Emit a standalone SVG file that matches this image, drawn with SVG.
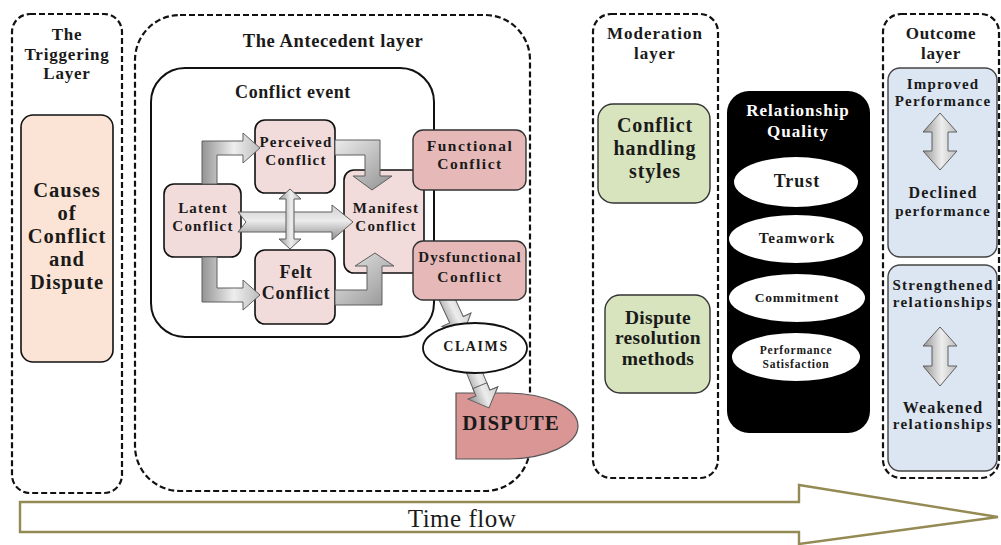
<svg xmlns="http://www.w3.org/2000/svg" width="1001" height="545" viewBox="0 0 1001 545">
  <style>
    text { font-family: "Liberation Serif", "DejaVu Serif", serif; font-weight: 700; fill: #1a1a1a; text-anchor: middle; dominant-baseline: central; }
    .layer { fill: none; stroke: #111; stroke-width: 2.2; stroke-dasharray: 6 3; }
    .pink { fill: #f2dcdb; stroke: #111; stroke-width: 1.6; }
    .rose { fill: #e6b9b8; stroke: #333; stroke-width: 1.4; }
    .green { fill: #d7e4bd; stroke: #333; stroke-width: 1.4; }
    .blue { fill: #dce6f2; stroke: #444; stroke-width: 1.4; }
    .garrow { stroke: #5e5e5e; stroke-width: 1; }
    .node { font-size: 15px; letter-spacing: 1.2px; }
    .cause { font-size: 20.5px; letter-spacing: 1px; }
  </style>
  <defs>
    <linearGradient id="gV" x1="0" y1="0" x2="0" y2="1">
      <stop offset="0" stop-color="#cfcfcf"/>
      <stop offset="0.45" stop-color="#ececec"/>
      <stop offset="1" stop-color="#8c8c8c"/>
    </linearGradient>
    <linearGradient id="gH" x1="0" y1="0" x2="1" y2="0">
      <stop offset="0" stop-color="#949494"/>
      <stop offset="0.55" stop-color="#eeeeee"/>
      <stop offset="1" stop-color="#bdbdbd"/>
    </linearGradient>
    <linearGradient id="gD" x1="0" y1="0" x2="1" y2="1">
      <stop offset="0" stop-color="#ebebeb"/>
      <stop offset="1" stop-color="#929292"/>
    </linearGradient>
  </defs>

  <!-- time axis -->
  <g id="time-flow">
    <polygon points="20,502 799,502 799,485 998,517 799,544 799,532 20,532" fill="#fff" stroke="#948a54" stroke-width="2.4"/>
    <text x="462" y="518" style="font-weight:400; font-size:25px; letter-spacing:0.5px">Time flow</text>
  </g>

  <!-- triggering layer -->
  <g id="triggering-layer">
    <rect class="layer" x="12" y="14" width="110" height="479" rx="18"/>
    <text x="67" y="34" font-size="17" letter-spacing="0.8">The</text>
    <text x="67" y="54" font-size="17" letter-spacing="0.8">Triggering</text>
    <text x="67" y="73" font-size="17" letter-spacing="0.8">Layer</text>
  </g>
  <g id="causes">
    <rect x="21" y="115" width="92" height="247" rx="12" fill="#fbe4d5" stroke="#111" stroke-width="1.6"/>
    <text class="cause" x="67" y="190">Causes</text>
    <text class="cause" x="67" y="213">of</text>
    <text class="cause" x="67" y="236">Conflict</text>
    <text class="cause" x="67" y="259">and</text>
    <text class="cause" x="67" y="282">Dispute</text>
  </g>

  <!-- antecedent layer -->
  <g id="antecedent-layer">
    <rect class="layer" x="135" y="15" width="395" height="476" rx="45"/>
    <text x="333" y="41" font-size="18.5" letter-spacing="0.6">The Antecedent layer</text>
  </g>
  <g id="conflict-event">
    <rect x="151" y="68" width="283" height="269" rx="34" fill="#fff" stroke="#111" stroke-width="2"/>
    <text x="293" y="92" font-size="18" letter-spacing="0.6">Conflict event</text>
  </g>

  <g id="manifest-conflict">
    <rect class="pink" x="344" y="170" width="80" height="103" rx="10"/>
    <text class="node" x="386" y="208">Manifest</text>
    <text class="node" x="386" y="226">Conflict</text>
  </g>
  <g id="perceived-conflict">
    <rect class="pink" x="255" y="120" width="80" height="73" rx="10"/>
    <text class="node" x="296" y="142" letter-spacing="0.9">Perceived</text>
    <text class="node" x="296" y="160">Conflict</text>
  </g>
  <g id="latent-conflict">
    <rect class="pink" x="164" y="184" width="77" height="73" rx="10"/>
    <text class="node" x="203" y="208">Latent</text>
    <text class="node" x="203" y="226">Conflict</text>
  </g>
  <g id="felt-conflict">
    <rect class="pink" x="255" y="250" width="80" height="74" rx="10"/>
    <text x="296" y="272" font-size="18" letter-spacing="0.8">Felt</text>
    <text x="296" y="293" font-size="18" letter-spacing="0.8">Conflict</text>
  </g>

  <!-- block arrows -->
  <g id="connectors">
    <polygon class="garrow" fill="url(#gH)" points="202,184 202,141 243,141 243,133 260,148 243,163 243,155 217,155 217,184"/>
    <polygon class="garrow" fill="url(#gH)" points="202,257 202,302 243,302 243,310 260,295 243,280 243,288 217,288 217,257"/>
    <polygon class="garrow" fill="url(#gV)" points="238,212 332,212 332,205 353,222 332,240 332,232 238,232 246,222"/>
    <polygon class="garrow" fill="url(#gD)" points="335,140 380,140 380,176 392,176 372,190 353,176 365,176 365,155 335,155"/>
    <polygon class="garrow" fill="url(#gD)" points="335,305 382,305 382,266 394,266 375,253 355,266 367,266 367,290 335,290"/>
    <polygon class="garrow" fill="url(#gH)" points="290,189 301,199 294,199 294,239 301,239 290,249 279,239 286,239 286,199 279,199"/>
    <polygon class="garrow" fill="url(#gV)" transform="translate(446,297) rotate(65.3)" points="0,-7.5 25,-7.5 25,-16 41,0 25,16 25,7.5 0,7.5"/>
    <polygon class="garrow" fill="url(#gV)" transform="translate(473,369) rotate(67.7)" points="0,-7.5 26,-7.5 26,-16 42,0 26,16 26,7.5 0,7.5"/>
  </g>

  <g id="functional-conflict">
    <rect class="rose" x="413" y="130" width="113" height="60" rx="10"/>
    <text x="470" y="145" font-size="15.5" letter-spacing="1.5">Functional</text>
    <text x="470" y="163" font-size="15.5" letter-spacing="1.5">Conflict</text>
  </g>
  <g id="dysfunctional-conflict">
    <rect class="rose" x="413" y="241" width="113" height="59" rx="10"/>
    <text x="470" y="257" font-size="15" letter-spacing="1.1">Dysfunctional</text>
    <text x="470" y="276" font-size="15.5" letter-spacing="1.5">Conflict</text>
  </g>
  <g id="claims">
    <ellipse cx="475" cy="348" rx="52" ry="25" fill="#fff" stroke="#111" stroke-width="1.8"/>
    <text x="476" y="346" font-size="14" letter-spacing="1.6">CLAIMS</text>
  </g>
  <g id="dispute">
    <path d="M456,393 H506 A72,33 0 0 1 506,459 H456 Z" fill="#d99694" stroke="#555" stroke-width="1.2"/>
    <text x="511" y="423" font-size="21" letter-spacing="0.9">DISPUTE</text>
  </g>
  <!-- claims arrow tip over the dispute shape -->
  <polygon class="garrow" fill="url(#gV)" transform="translate(473,369) rotate(67.7)" points="18,-7.5 26,-7.5 26,-16 42,0 26,16 26,7.5 18,7.5"/>

  <!-- moderation layer -->
  <g id="moderation-layer">
    <rect class="layer" x="593" y="14" width="125" height="464" rx="18"/>
    <text x="655" y="33" font-size="17" letter-spacing="1">Moderation</text>
    <text x="655" y="53" font-size="17" letter-spacing="1">layer</text>
  </g>
  <g id="conflict-handling-styles">
    <rect class="green" x="598" y="104" width="112" height="99" rx="15"/>
    <text x="655" y="125" font-size="20" letter-spacing="0.9">Conflict</text>
    <text x="655" y="148" font-size="20" letter-spacing="0.9">handling</text>
    <text x="655" y="171" font-size="20" letter-spacing="0.9">styles</text>
  </g>
  <g id="dispute-resolution-methods">
    <rect class="green" x="605" y="295" width="105" height="98" rx="15"/>
    <text x="658" y="317" font-size="19.5" letter-spacing="0.3">Dispute</text>
    <text x="658" y="337" font-size="19.5" letter-spacing="0.3">resolution</text>
    <text x="658" y="358" font-size="19.5" letter-spacing="0.3">methods</text>
  </g>

  <!-- relationship quality -->
  <g id="relationship-quality">
    <rect x="727" y="91" width="143" height="342" rx="22" fill="#000"/>
    <text x="798" y="110" font-size="17" letter-spacing="1" style="fill:#fff">Relationship</text>
    <text x="798" y="131" font-size="17" letter-spacing="1" style="fill:#fff">Quality</text>
  </g>
  <g id="trust">
    <ellipse cx="796" cy="182" rx="62" ry="25" fill="#fff"/>
    <text x="797" y="181" font-size="18" letter-spacing="1">Trust</text>
  </g>
  <g id="teamwork">
    <ellipse cx="796" cy="239" rx="67" ry="24" fill="#fff"/>
    <text x="797" y="238" font-size="15" letter-spacing="1">Teamwork</text>
  </g>
  <g id="commitment">
    <ellipse cx="797" cy="298" rx="68" ry="24" fill="#fff"/>
    <text x="797" y="297" font-size="13.5" letter-spacing="0.8">Commitment</text>
  </g>
  <g id="performance-satisfaction">
    <ellipse cx="796" cy="357" rx="64" ry="24" fill="#fff"/>
    <text x="796" y="350" font-size="11.5" letter-spacing="0.8">Performance</text>
    <text x="796" y="364" font-size="11.5" letter-spacing="0.8">Satisfaction</text>
  </g>

  <!-- outcome layer -->
  <g id="outcome-layer">
    <rect class="layer" x="883" y="14" width="116" height="464" rx="18"/>
    <text x="941" y="33" font-size="17" letter-spacing="0.6">Outcome</text>
    <text x="941" y="53" font-size="17" letter-spacing="0.6">layer</text>
  </g>
  <g id="performance-outcome">
    <rect class="blue" x="888" y="68" width="109" height="189" rx="12"/>
    <text x="943" y="84" font-size="15" letter-spacing="1.2">Improved</text>
    <text x="943" y="101" font-size="15" letter-spacing="1.2">Performance</text>
    <polygon class="garrow" fill="url(#gH)" points="940,113 957,132 948,132 948,151 957,151 940,170 923,151 932,151 932,132 923,132"/>
    <text x="943" y="192" font-size="16" letter-spacing="1.2">Declined</text>
    <text x="943" y="211" font-size="15" letter-spacing="1.2">performance</text>
  </g>
  <g id="relationship-outcome">
    <rect class="blue" x="888" y="265" width="109" height="206" rx="12"/>
    <text x="943" y="285" font-size="15" letter-spacing="1.3">Strengthened</text>
    <text x="943" y="302" font-size="15" letter-spacing="1.4">relationships</text>
    <polygon class="garrow" fill="url(#gH)" points="940,327 957,346 948,346 948,366 957,366 940,386 923,366 932,366 932,346 923,346"/>
    <text x="943" y="407" font-size="16" letter-spacing="1.2">Weakened</text>
    <text x="943" y="424" font-size="15" letter-spacing="1.4">relationships</text>
  </g>
</svg>
